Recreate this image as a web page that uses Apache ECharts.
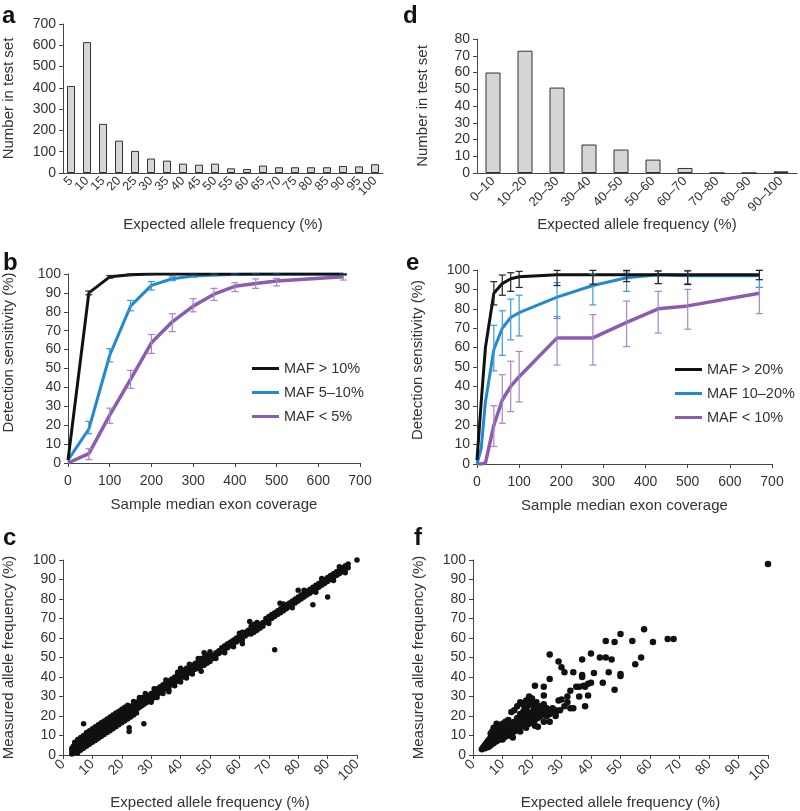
<!DOCTYPE html>
<html><head><meta charset="utf-8">
<script src="https://cdn.jsdelivr.net/npm/echarts@6/dist/echarts.min.js"></script>
<style>html,body{margin:0;padding:0;background:#fff}#c{width:800px;height:811px}</style>
</head><body><div id="c"></div>
<script>
// ---------- Panel a ----------
const aCats = ['5','10','15','20','25','30','35','40','45','50','55','60','65','70','75','80','85','90','95','100'];
const aVals = [409,615,231,152,104,68,58,44,39,44,22,19,35,27,27,27,27,33,31,41];
// ---------- Panel d ----------
const dCats = ['0–10','10–20','20–30','30–40','40–50','50–60','60–70','70–80','80–90','90–100'];
const dVals = [60,73,51,17,14,8,3,0,0,1];
// ---------- Panel b ----------
const bX = [0,50,100,150,200,250,300,350,400,450,500,660];
const bBlack = [1.5,90,98.5,99.6,100,100,100,100,100,100,100,100];
const bBlackLo = [null,89,97.8,99.2,99.6,99.6,99.6,99.6,99.6,99.6,99.6,99.6];
const bBlackHi = [null,91,99.2,100,100,100,100,100,100,100,100,100];
const bBlue = [1.5,18,57,83,94,97.5,99,99.5,99.8,100,100,100];
const bBlueLo = [null,15.5,53.5,80.5,91.5,96.5,98.3,99,99.3,99.5,99.5,99.5];
const bBlueHi = [null,22,60.5,86,96,98.5,99.7,100,100,100,100,100];
const bPurple = [0,5,25.3,44.3,63.6,74.7,83,89.3,93.5,95,96.3,98.6];
const bPurpleLo = [null,1.8,21,39.5,58,69.5,80,86,90.7,92.4,93.7,96.8];
const bPurpleHi = [null,7.6,29,49,68,79,87,92.4,95.4,97.4,97.7,99.5];
const bNames = ['MAF > 10%','MAF 5–10%','MAF < 5%'];
// ---------- Panel e ----------
const eX = [0,10,20,40,60,80,100,190,275,355,430,500,670];
const eBlack = [2,32,60,88,93,95.5,96.5,97.5,97.5,97.5,97.5,97.5,97.5];
const eBlackLo = [null,null,null,82,87,89,91,92,92.7,94,93,92.5,95];
const eBlackHi = [null,null,null,94,97.4,98.6,99.3,99.8,99.8,99.8,99.5,99.5,99.8];
const eBlue = [0,8,32,59,70,75.5,78,86,92,96,97.5,97,97];
const eBlueLo = [null,null,null,48,56,64,66,75,82,89,93,93,91];
const eBlueHi = [null,null,null,71.5,79,85,87,93.5,98,99,99.5,99.8,99.8];
const ePurple = [0,0,0.5,20,33,40,45,65,65,73,80,81.5,88];
const ePurpleLo = [null,null,null,9,21,27,32,51,51,60.5,67.5,69.5,77.5];
const ePurpleHi = [null,null,null,30,46,53,58,76,77,84,89,90,91];
const eNames = ['MAF > 20%','MAF 10–20%','MAF < 10%'];
// ---------- Panel c (expected, measured) ----------
const cPoints = [
[3,0.5],[3,2],[3,3.5],[3.5,1],[3.5,4.5],[4,2],[4,3],[4,5],[4.5,1.5],[4.5,3.5],[5,2.5],[5,4],[5,6],[5.5,3],[5.5,5],[6,4],[6,5.5],[6,7],[6.5,4.5],[6.5,6.5],
[7,5],[7,6],[7,8],[7.5,5.5],[7.5,7],[7.5,9],[8,6],[8,7.5],[8,10],[8.5,6.5],[8.5,8.5],[9,7],[9,9],[9,11],[9.5,8],[9.5,10],[10,8],[10,9.5],[10,12],[10.5,8.5],
[10.5,11],[11,9],[11,10.5],[11,13],[11.5,10],[11.5,12],[12,10],[12,11.5],[12,14],[12.5,10.5],[12.5,13],[13,11],[13,12.5],[13,15],[13.5,12],[13.5,14],[14,12],[14,13.5],[14,16],[14.5,12.5],
[14.5,15],[15,13],[15,14.5],[15,17],[15.5,14],[15.5,16],[16,14],[16,15.5],[16,18.5],[16.5,15],[16.5,17],[17,15],[17,16.5],[17,19],[17.5,16],[17.5,18],[18,16],[18,17.5],[18,20],[18.5,17],
[18.5,19],[19,17.5],[19,18.5],[19,21],[19.5,18],[19.5,20],[20,18],[20,19.5],[20,22.5],[20.5,19],[20.5,21],[21,19.5],[21,21],[21,23],[21.5,20],[21.5,22],[22,20],[22,21.5],[22,24.5],[22.5,21],
[22.5,23],[23,21],[23,22.5],[23,25],[23.5,22],[23.5,24],[24,22.5],[24,24],[24,26],[24.5,23],[24.5,25],[25,23.5],[25,25],[25,27],[25.5,24],[25.5,26],[26,24.5],[26,26],[26,28.5],[26.5,25],
[26.5,27],[27,25.5],[27,27],[27,29.5],[27.5,26],[27.5,28],[28,26.5],[28,28],[28,30],[28.5,27],[28.5,29],[29,27.5],[29,29],[29,30.5],[29.5,28],[29.5,30],[30,28.5],[30,30],[30,31.5],[30.5,29],
[30.5,31],[31,29.5],[31,31],[31,32.5],[31.5,30],[31.5,32],[32,31],[32,32.5],[32,34],[32.5,31.5],[32.5,33.5],[33,32],[33,33.5],[33,35],[33.5,32.5],[33.5,34.5],[34,33],[34,34.5],[34,36],[35,34],
[35,35.5],[35,37],[36,35],[36,36.5],[36,38],[37,36],[37,37.5],[37,39],[38,37],[38,38.5],[38,40],[39,38],[39,39.5],[39,41],[40,39],[40,40.5],[40,42],[41,40],[41,41.5],[41,43.5],
[42,41],[42,42.5],[42,44.5],[43,42],[43,43.5],[43,45],[44,43],[44,44.5],[44,46],[45,44],[45,45.5],[45,47],[46,44.5],[46,46],[46,48],[47,45.5],[47,47],[47,49.5],[48,46],[48,48],
[48,50],[49,47],[49,49],[49,51],[50,48],[50,50],[50,52],[51,49.5],[51,51],[52,51],[52,52.5],[53,52],[53,53.5],[54,53],[54,55],[55,54],[55,56],[56,55],[56,57],[57,56],
[57,58],[58,57],[58,59],[59,58],[59,60],[60,59],[60,61],[61,59],[61,61],[61,63],[62,61],[62,63],[63,62],[63,64],[64,62],[64,64],[64,66],[65,63],[65,65],[65,67],
[66,64],[66,66],[67,65],[67,67],[68,66],[68,68],[69,68],[69,70],[70,69],[70,71],[71,70],[71,72],[72,71],[72,73],[73,72],[73,74],[74,73],[74,75],[75,74],[75,76],
[76,75],[76,77],[77,76],[77,78],[78,77],[78,79],[79,78],[79,80],[80,79],[80,81],[81,80],[81,82],[82,81],[82,83],[83,82],[83,84],[84,83],[84,85],[85,84],[85,86],
[86,85],[86,87],[87,86],[87,88],[88,87],[88,89],[89,88],[89,90],[90,89],[90,91],[91,90],[91,92],[92,91],[92,93],[93,92],[93,94],[94,93],[94,95],[95,94],[95,96],
[96,95],[96,97],[97,96],[97,98],
[4,6.5],[5,1],[6,2.5],[7,3.5],[8,4.5],[9,5.5],[10,6.5],[11,7.5],[12,8.5],[13,9.5],[14,10.5],[15,11.5],[16,12.5],[17,13.5],[18,14.5],[19,15.5],[20,16.5],[21,17.5],[22,18.5],[23,19.5],[24,20.5],[25,21.5],
[5,8],[6,9],[7,10],[8,11.5],[9,12.5],[10,13.5],[11,14.5],[12,15.5],[13,16.5],[14,17.5],[15,18.5],[16,19.5],[17,20.5],[18,21.5],[19,22.5],[20,23.5],[21,24.5],[22,25.5],[24,27.5],[26,29.5],[28,31.5],
[30,27],[32,29.5],[34,31.5],[36,33.5],[38,35.5],[40,37.5],[42,39.5],[44,41.5],[31,34],[35,38.5],[39,42.5],[43,46.5],[46,49.5],[50,53],[52,49.5],[55,52.5],[58,55.5],[60,62.5],[66,68],[70,67.5],
[75,77.5],[78,75.5],[82,84.5],[86,83.5],[88,90.5],[92,89.5],[94,96.5],[96,93.5],
[7,16],[27.5,16],[22.5,14],[22.5,12],[72,54],[85,77],[90,81],[100,100],[48,52.5],[40,44.5],[63.5,68.5],[73.8,77.8],[80,84.5],[61,57],[47,43],[36,32.5]
];
// ---------- Panel f (expected, measured) ----------
const fPoints = [
[3,3],[3.5,4],[4,3.5],[4,5],[4.5,6],[5,4],[5,5.5],[5,7],[5.5,4.5],[5.5,8],[6,5],[6,6.5],[6,9],[6,11],[6.5,6],[6.5,7.5],[6.5,12],[7,6],[7,8],[7,10],
[7,14],[7.5,7],[7.5,9],[7.5,11],[8,7],[8,8.5],[8,10],[8,12],[8,16],[8.5,8],[8.5,10],[8.5,13],[9,8],[9,9.5],[9,11],[9,15],[9.5,9],[9.5,12],[10,8],[10,10],
[10,11.5],[10,14],[10,16],[10.5,9],[10.5,12],[11,9.5],[11,11],[11,13],[11,17],[11.5,10],[11.5,14],[12,10],[12,12],[12,15],[12,18],[12.5,11],[12.5,13],[13,11],[13,13.5],[13,16],
[13,22],[13.5,12],[13.5,9],[14,12],[14,14],[14,17],[14,23],[14.5,13],[14.5,15],[15,13],[15,16],[15,19],[15,25],[15.5,14],[15.5,18],[16,12],[16,15],[16,17],[16,21],[16,27],
[16.5,16],[16.5,20],[17,15],[17,18],[17,22],[17,26],[17.5,17],[17.5,24],[18,14],[18,17],[18,20],[18,23],[18,28],[18.5,19],[18.5,25],[19,16],[19,18],[19,21],[19,30],[19.5,20],
[19.5,27],[20,17],[20,19],[20,22],[20,29],[20.5,21],[20.5,25],[21,15],[21,18],[21,20],[21,23],[21.5,22],[21.5,27],[22,14.5],[22,19],[22,21],[22,24],[23,20],[23,22],[23,25],
[24,17],[24,21],[24,23],[24,26],[25,20],[25,22],[25,24],[26,21],[26,23],[26,17],[27,22],[27,24],[28,20],[28,23],[28,21.5],
[21,35.5],[24,35],[24,30.5],[26,39],[26,51.5],[29,48],[30,45],[31,42.5],[29,28],[30,28.5],[29.5,23],[31,25],[32,27],[32,30],[33,33],[33,24],[34,42.5],[34,24],[35,35],[36,30],
[36,35],[37,40],[37,41],[37,49],[37.5,35.5],[38,25],[38,35],[39,36.5],[39,30.5],[40,37],[40,52],[41,42],[44,37],[43,50],[45,50],[45,58.5],[46,42.5],[47,49],[48,33.5],[48,58],
[50,62],[50,40.5],[50,41.5],[54,58.5],[55,46.5],[57,50],[58,64.5],[61,58],[66,59.5],[68,59.5],[100,98]
];

const FONT = '"Liberation Sans", Arial, Helvetica, sans-serif';
const TXT = '#333';
const AX = '#444';
const BLACK = '#111111', BLUE = '#2288d0', PURPLE = '#8c5cb0';
const BLUE_E = '#3f9ad8', PURPLE_E = '#a885c6', BLACK_E = '#222';

function yAx(gi, min, max, interval, name, gap, pad) {
  return {type:'value', gridIndex:gi, min, max, interval,
    name, nameLocation:'middle', nameGap:gap, nameRotate:90,
    nameTextStyle:{fontSize:15, color:TXT, padding:pad||0},
    axisLine:{show:true, lineStyle:{color:AX, width:1}},
    axisTick:{show:true, length:4, lineStyle:{color:AX}},
    axisLabel:{fontSize:14, color:TXT, margin:7},
    splitLine:{show:false}};
}
function xVal(gi, min, max, interval, name, gap, rot) {
  return {type:'value', gridIndex:gi, min, max, interval,
    name, nameLocation:'middle', nameGap:gap,
    nameTextStyle:{fontSize:15, color:TXT},
    axisLine:{show:true, lineStyle:{color:AX, width:1}},
    axisTick:{show:true, length:4, lineStyle:{color:AX}},
    axisLabel:{fontSize:14, color:TXT, margin: rot ? 7 : 11, rotate: rot||0},
    splitLine:{show:false}};
}
function xCat(gi, cats, name, gap, fs) {
  return {type:'category', gridIndex:gi, data:cats, boundaryGap:true,
    name, nameLocation:'middle', nameGap:gap,
    nameTextStyle:{fontSize:15, color:TXT},
    axisLine:{show:true, lineStyle:{color:AX, width:1}},
    axisTick:{show:false},
    axisLabel:{fontSize:fs, color:TXT, rotate:45, interval:0, margin:6},
    splitLine:{show:false}};
}
function zip(xs, ys) { return xs.map((x,i)=>[x, ys[i]]); }
function errData(xs, lo, hi) {
  const out = [];
  xs.forEach((x,i)=>{ if (lo[i]!=null && hi[i]!=null) out.push([x, lo[i], hi[i]]); });
  return out;
}
function lineSeries(name, xs, ys, color, idx, w) {
  return {type:'line', name, xAxisIndex:idx, yAxisIndex:idx, data:zip(xs,ys),
    showSymbol:false, symbol:'none', color,
    lineStyle:{color, width:w||3}, itemStyle:{color}, z:3, animation:false};
}
function errSeries(xs, lo, hi, color, idx, cap) {
  return {type:'custom', xAxisIndex:idx, yAxisIndex:idx, data:errData(xs,lo,hi),
    z:4, animation:false, silent:true,
    encode:{x:0, y:[1,2]},
    renderItem:function(params, api){
      const x = api.value(0);
      const p1 = api.coord([x, api.value(1)]);
      const p2 = api.coord([x, api.value(2)]);
      const c = cap||3.5;
      const st = {stroke:color, lineWidth:1.2};
      return {type:'group', children:[
        {type:'line', shape:{x1:p1[0], y1:p1[1], x2:p2[0], y2:p2[1]}, style:st},
        {type:'line', shape:{x1:p1[0]-c, y1:p1[1], x2:p1[0]+c, y2:p1[1]}, style:st},
        {type:'line', shape:{x1:p2[0]-c, y1:p2[1], x2:p2[0]+c, y2:p2[1]}, style:st}
      ]};
    }};
}

const chart = echarts.init(document.getElementById('c'), null, {renderer:'canvas'});
const letter = (t, l, tp) => ({text:t, left:l, top:tp, padding:0,
  textStyle:{fontSize:24, fontWeight:'bold', color:'#111', fontFamily:FONT}});

const option = {
  animation:false,
  backgroundColor:'#fff',
  textStyle:{fontFamily:FONT},
  title:[letter('a',2,4), letter('d',403,4), letter('b',3,251), letter('e',406,251), letter('c',3,526), letter('f',414,526)],
  grid:[
    {left:63, top:24, width:320, height:149},
    {left:477, top:39, width:320, height:134},
    {left:66, top:274, width:294, height:189},
    {left:477, top:270, width:295, height:194},
    {left:63, top:560, width:294, height:196},
    {left:473, top:560, width:295, height:196}
  ],
  xAxis:[
    xCat(0, aCats, 'Expected allele frequency (%)', 44, 12.5),
    xCat(1, dCats, 'Expected allele frequency (%)', 44, 13),
    xVal(2, 0, 700, 100, 'Sample median exon coverage', 34),
    xVal(3, 0, 700, 100, 'Sample median exon coverage', 34),
    xVal(4, 0, 100, 10, 'Expected allele frequency (%)', 40, 45),
    xVal(5, 0, 100, 10, 'Expected allele frequency (%)', 40, 45)
  ],
  yAxis:[
    yAx(0, 0, 700, 100, 'Number in test set', 47),
    yAx(1, 0, 80, 10, 'Number in test set', 47),
    yAx(2, 0, 100, 10, 'Detection sensitivity (%)', 52, [0,0,0,32]),
    yAx(3, 0, 100, 10, 'Detection sensitivity (%)', 52, [0,0,0,14]),
    yAx(4, 0, 100, 10, 'Measured allele frequency (%)', 47),
    yAx(5, 0, 100, 10, 'Measured allele frequency (%)', 47)
  ],
  legend:[
    {data:bNames, orient:'vertical', left:252, top:361, padding:0, itemGap:9,
     icon:'rect', itemWidth:27, itemHeight:3, textStyle:{fontSize:14.5, color:TXT}, selectedMode:false},
    {data:eNames, orient:'vertical', left:675, top:362, padding:0, itemGap:9,
     icon:'rect', itemWidth:27, itemHeight:3, textStyle:{fontSize:14.5, color:TXT}, selectedMode:false}
  ],
  series:[
    {type:'bar', xAxisIndex:0, yAxisIndex:0, data:aVals, barWidth:8,
     itemStyle:{color:'#d6d6d6', borderColor:'#333', borderWidth:1}, animation:false},
    {type:'bar', xAxisIndex:1, yAxisIndex:1, data:dVals, barWidth:15,
     itemStyle:{color:'#d6d6d6', borderColor:'#333', borderWidth:1}, animation:false},
    // b
    lineSeries(bNames[2], bX, bPurple, PURPLE, 2, 3.5),
    lineSeries(bNames[1], bX, bBlue, BLUE, 2, 3),
    lineSeries(bNames[0], bX, bBlack, BLACK, 2, 3),
    errSeries(bX, bPurpleLo, bPurpleHi, PURPLE_E, 2),
    errSeries(bX, bBlueLo, bBlueHi, BLUE_E, 2),
    errSeries(bX, bBlackLo, bBlackHi, BLACK_E, 2),
    // e
    lineSeries(eNames[2], eX, ePurple, PURPLE, 3, 3.5),
    lineSeries(eNames[1], eX, eBlue, BLUE, 3, 3),
    lineSeries(eNames[0], eX, eBlack, BLACK, 3, 3),
    errSeries(eX, ePurpleLo, ePurpleHi, PURPLE_E, 3),
    errSeries(eX, eBlueLo, eBlueHi, BLUE_E, 3),
    errSeries(eX, eBlackLo, eBlackHi, BLACK_E, 3),
    // c, f
    {type:'scatter', xAxisIndex:4, yAxisIndex:4, data:cPoints, symbolSize:5.5,
     itemStyle:{color:'#111', opacity:1}, animation:false},
    {type:'scatter', xAxisIndex:5, yAxisIndex:5, data:fPoints, symbolSize:6.5,
     itemStyle:{color:'#111', opacity:1}, animation:false}
  ]
};
chart.setOption(option);
</script></body></html>
